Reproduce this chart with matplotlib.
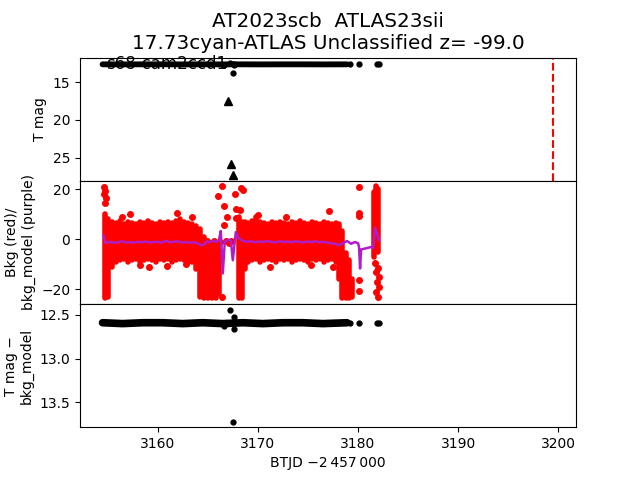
import matplotlib
matplotlib.use('Agg')
import matplotlib.pyplot as plt

# ── Photometry (T mag): dense run of points, then isolated points ─────────────
band_t = [3154.5, 3156.5, 3158.5, 3160.5, 3162.5, 3164.5, 3166.5, 3168.5,
          3170.5, 3172.5, 3174.5, 3176.5, 3178.9]
band_mag = [12.59, 12.60, 12.59, 12.59, 12.60, 12.59, 12.60, 12.59,
            12.60, 12.59, 12.59, 12.60, 12.59]
phot_t = [3166.6, 3167.2, 3167.5, 3167.6, 3167.6, 3179.2, 3180.1, 3181.9, 3182.1]
phot_mag = [12.63, 12.44, 13.72, 12.52, 12.66, 12.59, 12.59, 12.59, 12.59]

# upper limits (triangles)
lim_t = [3167.0, 3167.3, 3167.5]
lim_mag = [17.44, 25.8, 27.35]

# ATLAS detection epoch
t_disc = 3199.5

# ── Background flux: per-time spread of the points (low / high) ──────────────
bkg_t = [3154.7, 3155.0, 3155.4, 3155.8, 3156.2, 3156.6, 3157.0, 3157.4, 3157.8, 3158.2,
         3158.6, 3159.0, 3159.4, 3159.8, 3160.2, 3160.6, 3161.0, 3161.4, 3161.8, 3162.2,
         3162.6, 3163.0, 3163.4, 3163.8, 3164.2, 3164.6, 3165.0, 3165.4, 3165.8, 3166.1,
         3168.1, 3168.4, 3168.7, 3169.0, 3169.4, 3169.8, 3170.2, 3170.6, 3171.0, 3171.4,
         3171.8, 3172.2, 3172.6, 3173.0, 3173.4, 3173.8, 3174.2, 3174.6, 3175.0, 3175.4,
         3175.8, 3176.2, 3176.6, 3177.0, 3177.4, 3177.8, 3178.1, 3178.4, 3178.8, 3179.1,
         3179.4, 3181.6, 3181.8, 3182.0]
bkg_lo = [-23.7, -23.0, -11.0, -9.0, -8.5, -8.0, -9.0, -8.5, -8.0, -9.0,
          -8.5, -8.0, -8.5, -9.0, -8.0, -8.5, -8.0, -9.0, -8.5, -8.0,
          -8.5, -9.0, -9.0, -12.0, -23.0, -23.5, -23.5, -23.5, -23.5, -22.0,
          -23.5, -23.5, -12.0, -9.0, -8.5, -8.0, -9.0, -8.5, -8.0, -8.5,
          -9.0, -8.0, -8.5, -8.0, -9.0, -8.5, -8.0, -8.5, -9.0, -8.0,
          -8.5, -8.0, -9.0, -8.5, -8.0, -9.0, -16.0, -23.5, -23.7, -23.5,
          -23.0, -7.0, -3.0, -5.0]
bkg_hi = [10.0, 8.0, 7.0, 6.5, 7.5, 6.0, 7.0, 6.5, 6.0, 7.0,
          6.5, 7.5, 6.5, 6.0, 7.0, 6.5, 7.0, 6.5, 7.5, 8.0,
          7.0, 6.5, 6.0, 5.5, 4.0, 1.0, -1.0, -1.5, -2.0, -4.0,
          9.0, 7.0, 7.0, 6.5, 7.5, 9.0, 7.0, 6.5, 6.0, 7.0,
          6.5, 7.0, 6.5, 6.0, 7.0, 6.5, 7.5, 6.5, 6.0, 7.0,
          6.5, 6.0, 7.0, 6.5, 6.0, 6.5, 6.0, 3.5, -5.5, -8.5,
          -16.0, 19.0, 21.2, 20.0]

# isolated background points
bkgpt_t = [3154.6, 3154.7, 3154.65, 3154.8, 3154.7,
           3157.2, 3161.9, 3163.4, 3158.2, 3159.1, 3160.9, 3156.4, 3162.8,
           3164.9, 3165.3, 3165.6, 3165.9, 3166.2, 3166.8, 3167.1, 3167.3,
           3166.06, 3166.45, 3166.65, 3166.9, 3166.6, 3166.4,
           3167.7, 3168.5, 3168.3, 3167.8, 3167.8, 3168.2,
           3170.0, 3171.2, 3177.1, 3177.5, 3172.8, 3175.3,
           3180.1, 3180.1, 3180.1, 3180.1, 3180.1,
           3181.7, 3182.0, 3181.8, 3182.1, 3181.9, 3182.1, 3181.8, 3182.0]
bkgpt_y = [21.0, 19.5, 18.0, 16.5, 14.5,
           10.3, 10.5, 8.9, -10.4, -11.3, -10.8, 9.0, -10.0,
           -0.5, -1.5, -0.8, -1.8, -1.0, -0.8, -1.5, -0.5,
           17.2, 21.2, 13.2, 8.9, 5.6, -23.1,
           18.3, 19.7, 20.7, 12.1, 8.7, 11.9,
           9.6, -11.3, 11.2, -11.3, 9.0, -10.2,
           21.0, 10.4, 9.5, -16.4, -20.8,
           -9.5, -11.5, -13.0, -15.0, -17.0, -19.0, -21.0, -23.0]

# background model
model_t = [3154.6, 3154.8, 3155.2, 3155.6, 3156.0, 3156.4, 3156.8, 3157.2, 3157.6, 3158.0,
           3158.4, 3158.8, 3159.2, 3159.6, 3160.0, 3160.4, 3160.8, 3161.2, 3161.6, 3162.0,
           3162.4, 3162.8, 3163.2, 3163.6, 3164.0, 3164.3, 3164.6, 3164.9, 3165.2, 3165.5,
           3165.8, 3166.1, 3166.3, 3166.5, 3166.7, 3167.0, 3167.3, 3167.5, 3167.8, 3168.1,
           3168.5, 3168.9, 3169.3, 3169.7, 3170.1, 3170.5, 3170.9, 3171.3, 3171.7, 3172.1,
           3172.5, 3172.9, 3173.3, 3173.7, 3174.1, 3174.5, 3174.9, 3175.3, 3175.7, 3176.1,
           3176.5, 3176.9, 3177.3, 3177.7, 3178.1, 3178.5, 3178.9, 3179.3, 3179.7, 3180.0,
           3180.1, 3180.2, 3180.3, 3180.8, 3181.3, 3181.5, 3181.7, 3181.9, 3182.1]
model_y = [1.5, -1.5, -1.0, -1.4, -1.2, -0.8, -1.3, -1.1, -1.4, -1.0,
           -1.2, -0.9, -1.3, -1.1, -1.0, -1.4, -0.6, -1.2, -1.0, -0.8,
           -1.3, -1.1, -1.4, -1.2, -1.6, -2.4, -2.2, -0.8, -1.2, -0.5,
           -1.0, -0.6, 3.3, -13.7, -1.0, -0.3, -0.3, -8.4, 2.9, 0.3,
           -0.6, -1.0, -0.8, -1.2, -0.9, -1.1, -0.7, -1.0, -1.3, -0.8,
           -1.1, -0.9, -1.2, -0.8, -1.0, -1.3, -0.9, -1.1, -0.8, -1.2,
           -1.0, -1.3, -1.6, -1.8, -2.4, -1.5, -0.7, -1.8, -1.1, -1.6,
           -3.1, -11.7, -4.1, -3.6, -3.1, -3.6, 4.6, 2.3, -0.4]

# ── Figure ────────────────────────────────────────────────────────────────────
fig, (ax1, ax2, ax3) = plt.subplots(3, 1, sharex=True, figsize=(6.4, 4.8), dpi=100)
fig.subplots_adjust(hspace=0)

# top: T mag
ax1.plot(band_t, band_mag, color='k', lw=4.2, solid_capstyle='round')
ax1.plot(phot_t, phot_mag, 'k.', ms=7)
ax1.plot(lim_t, lim_mag, 'k^', ms=6)
ax1.axvline(t_disc, color='r', ls='--', lw=1.5)
ax1.text(band_t[0] + 0.4, band_mag[0], 's68-cam2ccd1', fontsize=12, va='center')
ax1.invert_yaxis()
ax1.set_ylabel('T mag')
ax1.set_title('AT2023scb  ATLAS23sii\n17.73cyan-ATLAS Unclassified z= -99.0',
              fontsize=14.4)

# middle: background
ax2.vlines(bkg_t, bkg_lo, bkg_hi, color='r', lw=4.0, capstyle='round')
ax2.plot(bkgpt_t, bkgpt_y, 'r.', ms=8)
ax2.plot(model_t, model_y, color='#b01cc8', lw=1.8)
ax2.set_ylabel('Bkg (red)/\nbkg_model (purple)')

# bottom: T mag - bkg model
ax3.plot(band_t, band_mag, color='k', lw=5.5, solid_capstyle='round')
ax3.plot(phot_t, phot_mag, 'k.', ms=7)
ax3.invert_yaxis()
ax3.set_ylabel('T mag \u2212\nbkg_model')
ax3.set_xlabel('BTJD \u22122\u2009457\u2009000')

fig.savefig('out.png', dpi=100)
